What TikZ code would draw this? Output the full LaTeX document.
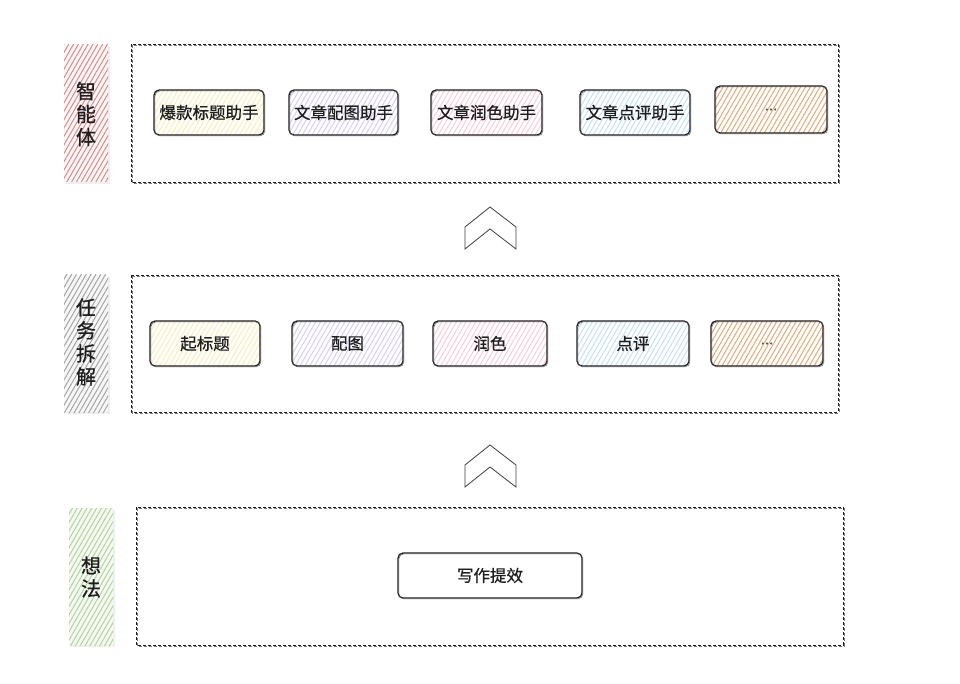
\documentclass[tikz,border=0pt]{standalone}
\usepackage{fontspec}
\newfontfamily\cjk[FakeBold=0.6]{Noto Sans CJK SC}
\usetikzlibrary{patterns.meta,shadows}
\definecolor{ink}{HTML}{1E1E1E}
\definecolor{cyel}{HTML}{EFE27A}
\definecolor{cpur}{HTML}{BBA6F2}
\definecolor{cpink}{HTML}{F2A2C2}
\definecolor{cblue}{HTML}{98C6F2}
\definecolor{corg}{HTML}{DE8C48}
\definecolor{cred}{HTML}{D96A6A}
\definecolor{cgray}{HTML}{8E8E8E}
\definecolor{cgreen}{HTML}{98CF72}
\tikzset{
  x=1pt, y=-1pt,
  hatch/.style={pattern={Lines[angle=60,distance=4.2pt,line width=1pt]}, pattern color=#1},
  card/.style={draw=ink, line width=1.2pt, rounded corners=5pt, minimum height=45pt,
    inner sep=0pt, font=\cjk\fontsize{16.5}{18}\selectfont, text=ink,
    postaction={draw=ink!70, line width=0.5pt, transform canvas={xshift=0.9pt, yshift=-0.9pt}}},
  dbox/.style={draw=ink, line width=0.9pt, dash pattern=on 3pt off 2pt,
    postaction={draw=ink!60, line width=0.5pt, dash pattern=on 3pt off 2pt, transform canvas={xshift=0.8pt, yshift=-0.8pt}}},
  bar/.style={fill=gray!6, drop shadow={opacity=0.12, shadow xshift=2pt, shadow yshift=-2pt}},
  barlabel/.style={font=\cjk\fontsize{20}{23}\selectfont, text=ink, align=center, inner sep=0pt},
  chev/.style={draw=ink!85, line width=0.8pt, line join=miter},
  dots/.style={font=\cjk\fontsize{15}{16}\selectfont, text=ink!75}
}
\begin{document}
\begin{tikzpicture}
\useasboundingbox (0,0) rectangle (960,684);
\fill[white] (0,0) rectangle (960,684);

% left bars
\path[bar] (64,45) rectangle (108,182);
\path[hatch=cred!80] (64,45) rectangle (108,182);
\node[barlabel] (l1) at (86,114) {智\\能\\体};

\path[bar] (64,275) rectangle (108,412);
\path[hatch=cgray!80] (64,275) rectangle (108,412);
\node[barlabel] (l2) at (86,342) {任\\务\\拆\\解};

\path[bar] (69,508) rectangle (113,645);
\path[hatch=cgreen!80] (69,508) rectangle (113,645);
\node[barlabel] (l3) at (91,577) {想\\法};

% dashed containers
\draw[dbox] (131,44) rectangle (838,182);
\draw[dbox] (131,275) rectangle (838,412);
\draw[dbox] (136,507) rectangle (843,645);

% top row
\node[card, hatch=cyel!55, minimum width=110pt] (a1) at (209,112.5) {爆款标题助手};
\node[card, hatch=cpur!55, minimum width=109pt] (a2) at (343.5,112.5) {文章配图助手};
\node[card, hatch=cpink!55, minimum width=111pt] (a3) at (486.5,112.5) {文章润色助手};
\node[card, hatch=cblue!55, minimum width=110pt] (a4) at (635,112.5) {文章点评助手};
\node[card, hatch=corg!75, minimum width=112pt, minimum height=47pt] (a5) at (771,109.5) {};
\node[dots] (a5t) at (a5) {...};

% middle row
\node[card, hatch=cyel!55, minimum width=110pt] (b1) at (205,343.5) {起标题};
\node[card, hatch=cpur!55, minimum width=111pt] (b2) at (347.5,343.5) {配图};
\node[card, hatch=cpink!55, minimum width=114pt] (b3) at (490,343.5) {润色};
\node[card, hatch=cblue!55, minimum width=112pt] (b4) at (633,343.5) {点评};
\node[card, hatch=corg!75, minimum width=112pt] (b5) at (767,343.5) {};
\node[dots] (b5t) at (b5) {...};

% bottom
\node[card, minimum width=184pt] (c1) at (490,575.5) {写作提效};

% chevrons
\draw[chev] (490,207) -- (516,227) -- (516,249) -- (490,229) -- (465,249) -- (465,227) -- cycle;
\draw[chev] (490,445) -- (516,465) -- (516,487) -- (490,467) -- (465,487) -- (465,465) -- cycle;
\end{tikzpicture}
\end{document}
